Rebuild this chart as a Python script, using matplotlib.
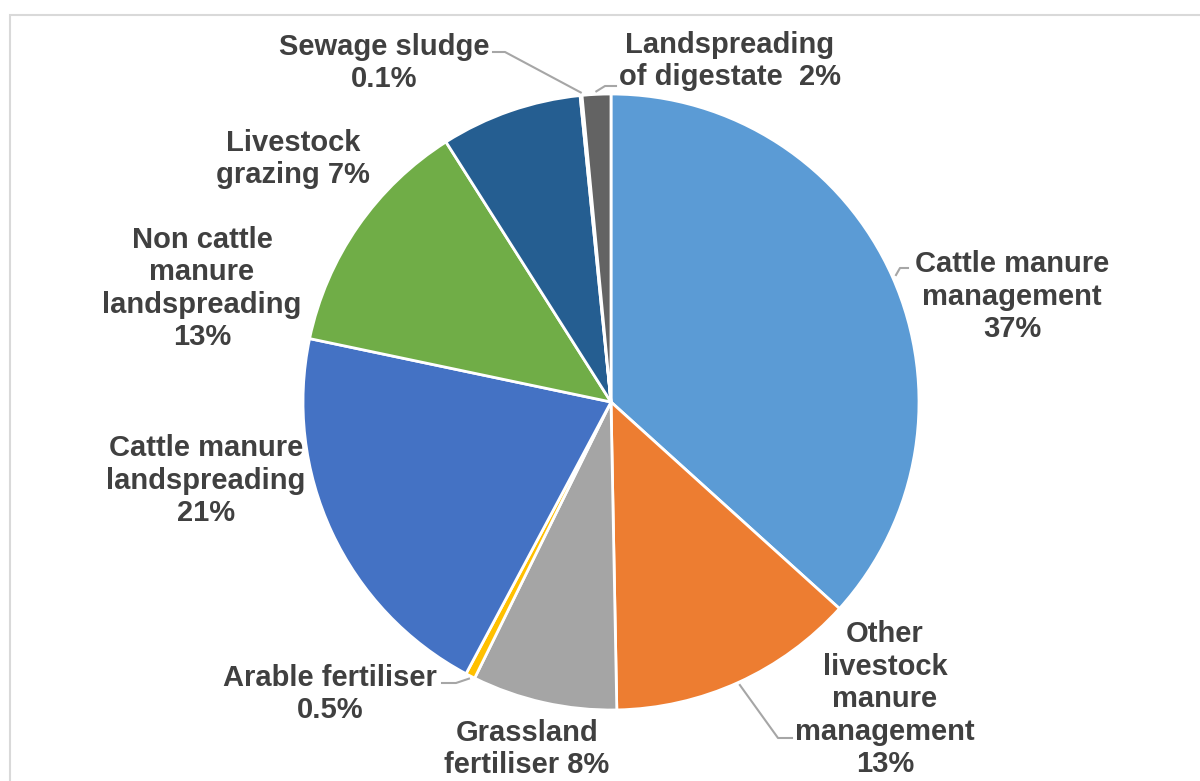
import matplotlib.pyplot as plt
import matplotlib.patches as mpatches
import numpy as np

# slice shares (%), clockwise from 12 o'clock
sources = ['Cattle manure management', 'Other livestock manure management',
           'Grassland fertiliser', 'Arable fertiliser', 'Cattle manure landspreading',
           'Non cattle manure landspreading', 'Livestock grazing', 'Sewage sludge',
           'Landspreading of digestate']
shares = [36.7, 13.0, 7.6, 0.5, 20.5, 12.7, 7.4, 0.1, 1.5]
labels = ['Cattle manure\nmanagement\n37%',
          'Other\nlivestock\nmanure\nmanagement\n13%',
          'Grassland\nfertiliser 8%',
          'Arable fertiliser\n0.5%',
          'Cattle manure\nlandspreading\n21%',
          'Non cattle\nmanure\nlandspreading\n13%',
          'Livestock\ngrazing 7%',
          'Sewage sludge\n0.1%',
          'Landspreading\nof digestate  2%']
colors = ['#5B9BD5', '#ED7D31', '#A5A5A5', '#FFC000', '#4472C4',
          '#70AD47', '#255E91', '#9E480E', '#636363']

H = 781
fig = plt.figure(figsize=(12, 7.81), dpi=100)
ax = fig.add_axes([0, 0, 1, 1])

# light chart frame
ax.add_patch(mpatches.Rectangle((10, -10), 1300, H - 15 + 10, fill=False,
                                edgecolor='#D9D9D9', linewidth=1.5))

cx, cy, r = 611, H - 402, 308
wedges, _ = ax.pie(shares, colors=colors, startangle=90, counterclock=False,
                   center=(cx, cy), radius=r, frame=True,
                   wedgeprops=dict(edgecolor='white', linewidth=2))
ax.set_xlim(0, 1200)
ax.set_ylim(0, H)
ax.axis('off')

# label centre x and last-line baseline (pixels from top-left)
label_pos = [(1012, 337), (885, 772), (527, 773), (330, 718), (206, 521),
             (202, 345), (293, 183), (384, 87), (730, 85)]
for lab, (lx, ly) in zip(labels, label_pos):
    ax.text(lx, H - ly, lab, ha='center', va='baseline', fontsize=21,
            fontweight='bold', color='#404040', family='Liberation Sans',
            linespacing=1.2)

# leader lines: wedge edge -> elbow -> label
def mid_point(w, rr):
    ang = np.deg2rad((w.theta1 + w.theta2) / 2)
    return cx + rr * np.cos(ang), cy + rr * np.sin(ang)

leaders = {1: [(778, 738), (792, 738)],
           3: [(456, 683), (442, 683)],
           7: [(505, 52), (493, 52)],
           8: [(605, 86), (616, 86)],
           0: [(900, 268), (908, 268)]}
for i, pts in leaders.items():
    x0, y0 = mid_point(wedges[i], r + 3)
    if i == 0:
        x0, y0 = 896, H - 275
    xs = [x0] + [p[0] for p in pts]
    ys = [y0] + [H - p[1] for p in pts]
    ax.plot(xs, ys, color='#A6A6A6', linewidth=1.5)

fig.savefig('out.png', dpi=100)
